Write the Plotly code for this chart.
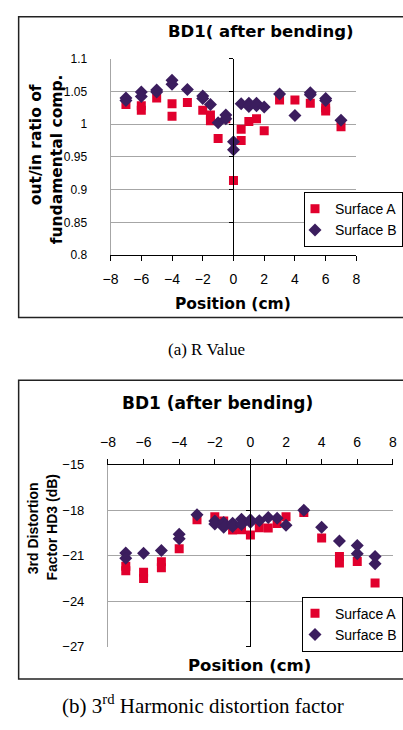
import plotly.graph_objects as go

# ---- data -------------------------------------------------------------
# (a) R value: out/in ratio of fundamental component vs position (cm)
pos_a_r = [-7, -6, -6, -5, -4, -4, -3, -2, -1.5, -1.5, -1, -0.5, 0, 0.5, 0.5,
           1, 1.5, 2, 3, 4, 5, 6, 6, 7]
r_a = [1.030, 1.028, 1.021, 1.040, 1.031, 1.012, 1.033, 1.021, 1.014, 1.005,
       0.978, 1.008, 0.914, 0.992, 0.975, 1.004, 1.008, 0.990, 1.037, 1.037,
       1.032, 1.025, 1.020, 0.996]

pos_b_r = [-7, -7, -6, -6, -5, -5, -4, -4, -3, -2, -2, -1.5, -1, -0.5, -0.5,
           0, 0, 0.5, 1, 1, 1.5, 1.5, 2, 3, 4, 5, 5, 6, 6, 7]
r_b = [1.040, 1.036, 1.049, 1.042, 1.052, 1.049, 1.067, 1.061, 1.053, 1.043,
       1.039, 1.030, 1.002, 1.014, 1.008, 0.973, 0.961, 1.031, 1.032, 1.027,
       1.032, 1.028, 1.026, 1.046, 1.013, 1.048, 1.045, 1.039, 1.036, 1.006]

# (b) 3rd harmonic distortion factor HD3 (dB) vs position (cm)
pos_a_h = [-7, -7, -6, -6, -5, -5, -4, -3, -2, -1.5, -1, -0.5, 0, 0.5, 1,
           1.5, 2, 3, 4, 5, 5, 6, 7]
h_a = [-21.7, -22.0, -22.1, -22.5, -21.4, -21.8, -20.55, -18.64, -18.43,
       -18.71, -19.31, -19.29, -19.63, -19.16, -19.18, -18.88, -18.43, -18.15,
       -19.84, -21.06, -21.49, -21.39, -22.80]

pos_b_h = [-7, -7, -6, -5, -4, -4, -3, -2, -2, -1.5, -1.5, -1, -1, -0.5, -0.5,
           0, 0, 0.5, 1, 1.5, 2, 3, 4, 5, 6, 6, 7, 7]
h_b = [-20.83, -21.17, -20.85, -20.66, -19.59, -19.88, -18.30, -18.71, -18.92,
       -18.81, -19.13, -18.86, -19.07, -18.60, -18.94, -18.64, -18.80, -18.69,
       -18.49, -18.54, -18.99, -18.00, -19.13, -20.03, -20.33, -20.87, -21.06,
       -21.53]

series_names = ["Surface A", "Surface B"]
x_ticks = [-8, -6, -4, -2, 0, 2, 4, 6, 8]
r_ticks = [0.8, 0.85, 0.9, 0.95, 1.0, 1.05, 1.1]
h_ticks = [-27, -24, -21, -18, -15]

# ---- styling ----------------------------------------------------------
W, H = 403, 730
RED = "#e1002d"
PURPLE = "#3b1d5e"
GRID = "#a6a6a6"
GOTHIC = "DejaVu Sans"
SANS = "Liberation Sans"
SERIF = "Liberation Serif"


def px(x):
    return x / W


def py(y):
    return 1 - y / H


top_x = [px(106), px(360)]
top_y = [py(253.3), py(52.7)]
bot_x = [px(103.3), px(397.7)]
bot_y = [py(653), py(467.3)]

fig = go.Figure()

mk_a = dict(symbol="square", size=9, color=RED)
mk_b = dict(symbol="diamond", size=10, color=PURPLE)

fig.add_trace(go.Scatter(x=pos_a_r, y=r_a, mode="markers", marker=mk_a,
                         name=series_names[0], xaxis="x", yaxis="y",
                         legend="legend"))
fig.add_trace(go.Scatter(x=pos_b_r, y=r_b, mode="markers", marker=mk_b,
                         name=series_names[1], xaxis="x", yaxis="y",
                         legend="legend"))
fig.add_trace(go.Scatter(x=pos_a_h, y=h_a, mode="markers", marker=mk_a,
                         name=series_names[0], xaxis="x2", yaxis="y2",
                         legend="legend2"))
fig.add_trace(go.Scatter(x=pos_b_h, y=h_b, mode="markers", marker=mk_b,
                         name=series_names[1], xaxis="x2", yaxis="y2",
                         legend="legend2"))
# empty traces so the x=0 crossing axes get drawn
fig.add_trace(go.Scatter(x=[], y=[], xaxis="x", yaxis="y3", showlegend=False))
fig.add_trace(go.Scatter(x=[], y=[], xaxis="x2", yaxis="y4", showlegend=False))

tick_font = dict(family=SANS, size=14, color="black")

fig.update_layout(
    width=W, height=H,
    margin=dict(l=0, r=0, t=0, b=0),
    paper_bgcolor="white", plot_bgcolor="white",
    showlegend=True,
    xaxis=dict(domain=top_x, anchor="y", range=[-8, 8], tickvals=x_ticks,
               showline=True, linecolor="black", linewidth=1,
               ticks="outside", ticklen=5, tickcolor="black",
               showgrid=False, zeroline=False, tickfont=tick_font,
               ticklabelstandoff=6),
    yaxis=dict(domain=top_y, anchor="x", range=[0.8, 1.1], tickvals=r_ticks,
               showline=True, linecolor=GRID, linewidth=1,
               showgrid=True, gridcolor=GRID, gridwidth=1,
               zeroline=False, ticks="", ticklabelstandoff=20,
               tickfont=dict(family=SANS, size=12, color="black")),
    yaxis3=dict(overlaying="y", anchor="free",
                position=top_x[0] + 0.5 * (top_x[1] - top_x[0]),
                range=[0.8, 1.1], tickvals=r_ticks, showticklabels=False,
                showline=True, linecolor="black", linewidth=1,
                ticks="outside", ticklen=4, tickcolor="black",
                showgrid=False, zeroline=False),
    xaxis2=dict(domain=bot_x, anchor="y2", side="top", range=[-8, 8],
                tickvals=x_ticks, showline=True, linecolor="black",
                linewidth=1, ticks="outside", ticklen=5, tickcolor="black",
                showgrid=False, zeroline=False, tickfont=tick_font,
                ticklabelstandoff=6),
    yaxis2=dict(domain=bot_y, anchor="x2", range=[-27, -15], tickvals=h_ticks,
                showline=True, linecolor=GRID, linewidth=1,
                showgrid=True, gridcolor=GRID, gridwidth=1,
                zeroline=False, ticks="", ticklabelstandoff=20,
                tickfont=dict(family=SANS, size=13, color="black")),
    yaxis4=dict(overlaying="y2", anchor="free",
                position=bot_x[0] + 0.5 * (bot_x[1] - bot_x[0]),
                range=[-27, -15], tickvals=h_ticks, showticklabels=False,
                showline=True, linecolor="black", linewidth=1,
                ticks="outside", ticklen=4, tickcolor="black",
                showgrid=False, zeroline=False),
    legend=dict(x=px(306), y=py(189), xanchor="left", yanchor="top",
                bgcolor="white", bordercolor="black", borderwidth=1,
                font=dict(family=SANS, size=14, color="black"),
                indentation=-10, itemwidth=30),
    legend2=dict(x=px(304), y=py(602), xanchor="left", yanchor="top",
                 bgcolor="white", bordercolor="black", borderwidth=1,
                 font=dict(family=SANS, size=14, color="black"),
                 indentation=-8, itemwidth=30),
)

# outer frames around each panel
for y0, y1 in [(10, 317), (381, 686)]:
    fig.add_shape(type="rect", xref="paper", yref="paper",
                  x0=px(11), x1=px(420), y0=py(y1), y1=py(y0),
                  line=dict(color="#222222", width=1.5), layer="below")


def note(text, x, y, font, angle=0):
    fig.add_annotation(text=text, x=px(x), y=py(y), xref="paper",
                       yref="paper", showarrow=False, font=font,
                       textangle=angle, xanchor="center", yanchor="middle")


def gothic(size, family=GOTHIC):
    return dict(family=family, size=size, color="black")


note("<b>BD1( after bending)</b>", 261, 25, gothic(16.5))
note("<b>Position (cm)</b>", 233, 303, gothic(15.5))
note("<b>out/in ratio of</b>", 29, 141, gothic(15.5), -90)
note("<b>fundamental comp.</b>", 50, 155, gothic(15.5), -90)
note("(a) R Value", 205, 350, dict(family=SERIF, size=17, color="black"))

note("<b>BD1 (after bending)</b>", 216, 404, gothic(17))
note("<b>Position (cm)</b>", 250, 672, gothic(16.5))
note("<b>3rd Distortion</b>", 26, 532, gothic(14, SANS), -90)
note("<b>Factor HD3 (dB)</b>", 46, 531, gothic(14, SANS), -90)
note("(b) 3<sup>rd</sup> Harmonic distortion factor", 201, 712,
     dict(family=SERIF, size=21, color="black"))

fig.write_html("out.html")
